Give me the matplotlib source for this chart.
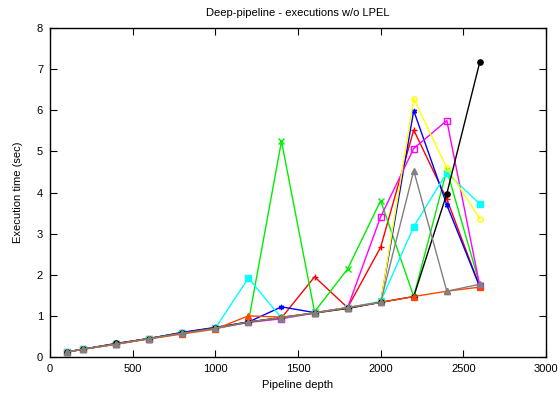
import numpy as np
import matplotlib
matplotlib.use('Agg')
import matplotlib.pyplot as plt

plt.rcParams['font.family'] = ['Liberation Sans', 'DejaVu Sans']

# pipeline depths and execution times (sec) for each run
depth = [100, 200, 400, 600, 800, 1000, 1200, 1400, 1600, 1800, 2000, 2200, 2400, 2600]

run_red = [0.12, 0.19, 0.32, 0.45, 0.58, 0.69, 0.85, 0.95, 1.95, 1.2, 2.67, 5.52, 3.84, 1.7]
run_green = [0.12, 0.19, 0.32, 0.45, 0.58, 0.7, 0.85, 5.25, 1.1, 2.14, 3.8, 1.47, 4.55, 1.75]
run_blue = [0.12, 0.19, 0.32, 0.45, 0.6, 0.72, 0.85, 1.22, 1.08, 1.2, 1.33, 5.99, 3.7, 1.7]
run_magenta = [0.12, 0.19, 0.31, 0.45, 0.58, 0.7, 0.84, 0.93, 1.07, 1.2, 3.41, 5.07, 5.75, 1.72]
run_cyan = [0.12, 0.19, 0.32, 0.45, 0.58, 0.7, 1.92, 0.95, 1.07, 1.2, 1.35, 3.17, 4.48, 3.72]
run_yellow = [0.12, 0.19, 0.32, 0.45, 0.57, 0.7, 0.85, 0.96, 1.07, 1.2, 1.33, 6.28, 4.6, 3.36]
run_black = [0.12, 0.19, 0.33, 0.45, 0.59, 0.71, 0.85, 0.96, 1.07, 1.18, 1.33, 1.47, 3.97, 7.18]
run_orange = [0.12, 0.19, 0.31, 0.44, 0.56, 0.68, 1.0, 0.97, 1.07, 1.2, 1.33, 1.47, 1.6, 1.7]
run_gray = [0.12, 0.19, 0.32, 0.45, 0.58, 0.7, 0.85, 0.96, 1.07, 1.2, 1.33, 4.53, 1.6, 1.77]

runs = [
    (run_red, 'red', '+', True),
    (run_green, '#00ee00', 'x', True),
    (run_blue, 'blue', (6, 2, 0), True),
    (run_magenta, 'magenta', 's', False),
    (run_cyan, 'cyan', 's', True),
    (run_yellow, 'yellow', 'o', False),
    (run_black, 'black', 'o', True),
    (run_orange, '#ff4500', '^', True),
    (run_gray, 'gray', '^', True),
]

fig = plt.figure(figsize=(5.6, 3.98), dpi=100)
ax = fig.add_axes([0.0893, 0.103, 0.8857, 0.8266])

for vals, col, mk, filled in runs:
    ax.plot(depth, vals, color=col, lw=1, marker=mk, ms=3.8,
            mfc=col if filled else 'none', mec=col, mew=1)

ax.set_xlim(0, 3000)
ax.set_ylim(0, 8)
ax.set_xticks(np.arange(0, 3001, 500))
ax.set_yticks(np.arange(0, 9, 1))
ax.tick_params(direction='in', top=True, right=True, labelsize=8, length=5, pad=5)
for s in ax.spines.values():
    s.set_linewidth(1)

ax.set_xlabel('Pipeline depth', fontsize=8, labelpad=4)
ax.set_ylabel('Execution time (sec)', fontsize=8, labelpad=10)
ax.set_title('Deep-pipeline - executions w/o LPEL', fontsize=8, pad=9)

fig.savefig('out.png', dpi=100)
